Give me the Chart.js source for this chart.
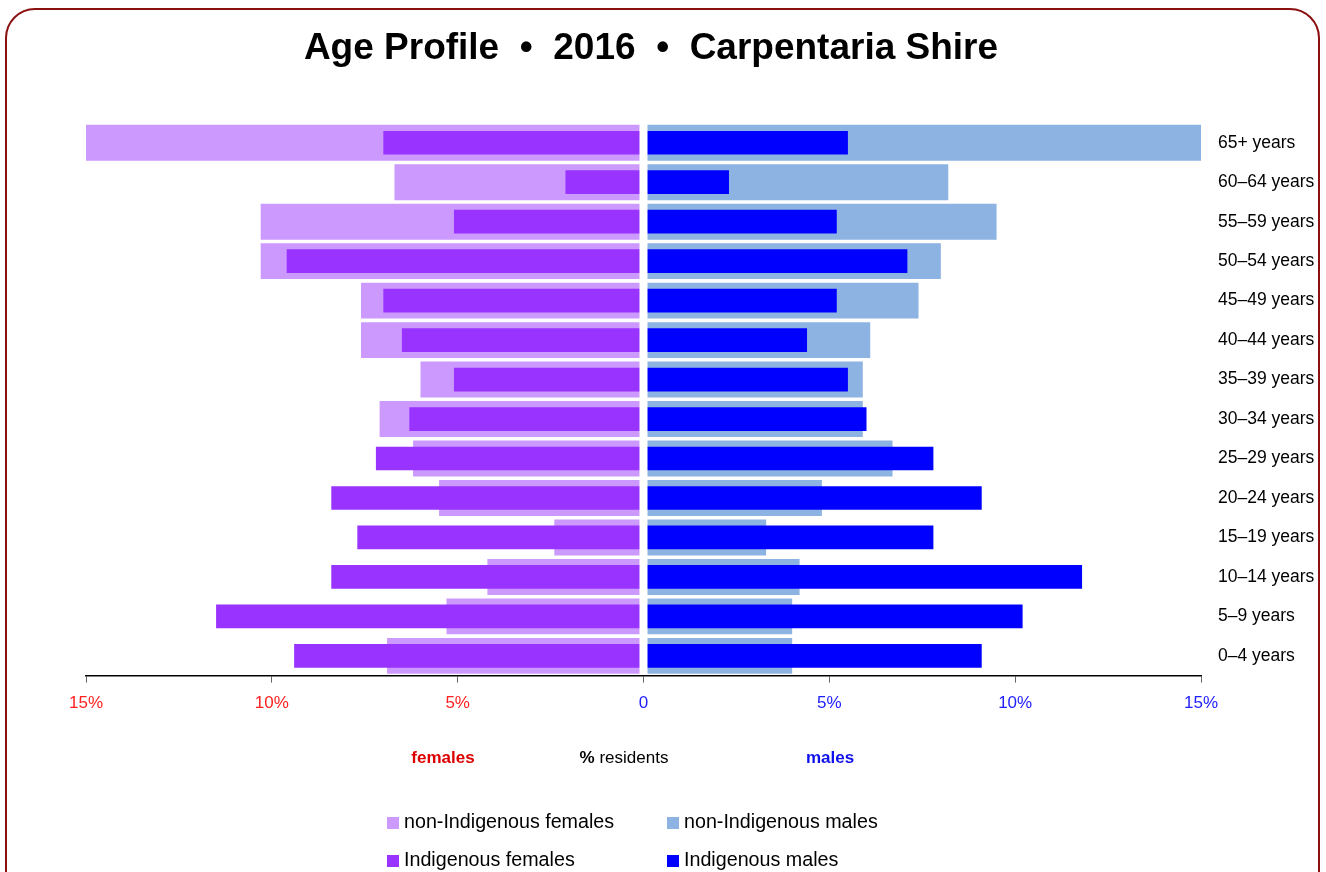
<!DOCTYPE html>
<html lang="en">
<head>
    <meta charset="UTF-8">
    <title>Age Profile 2016 Carpentaria Shire</title>
    <style>
        body {
            margin: 0;
            background: #fff;
            font-family: "Liberation Sans", Arial, sans-serif;
        }
        .wrap {
            position: relative;
            width: 1326px;
            height: 872px;
            overflow: hidden;
        }
        .frame {
            position: absolute;
            left: 5px;
            top: 8px;
            width: 1311px;
            height: 900px;
            border: 2px solid #8b1010;
            border-radius: 30px;
        }
        canvas { position: absolute; left: 0; top: 0; }
        .title {
            position: absolute;
            left: 0; width: 1302px; top: 26px;
            text-align: center;
            font-weight: bold;
            font-size: 37px;
        }
        .lbl {
            position: absolute;
            font-size: 17px;
            top: 748px;
            transform: translateX(-50%);
            white-space: nowrap;
        }
        .leg {
            position: absolute;
            font-size: 19.7px;
            white-space: nowrap;
        }
        .leg span {
            display: inline-block;
            width: 12px; height: 12px;
            margin-right: 5px;
            vertical-align: -1px;
        }
    </style>
    <script src="https://cdn.jsdelivr.net/npm/chart.js"></script>
</head>
<body>
<div class="wrap">
    <div class="frame"></div>
    <canvas id="chart" width="1326" height="872"></canvas>
    <div class="title">Age Profile &nbsp;•&nbsp; 2016 &nbsp;•&nbsp; Carpentaria Shire</div>
    <div class="lbl" style="left:443px;color:#dd0000;font-weight:bold">females</div>
    <div class="lbl" style="left:624px;color:#000"><b>%</b> residents</div>
    <div class="lbl" style="left:830px;color:#1010ee;font-weight:bold">males</div>
    <div class="leg" style="left:387px;top:810px"><span style="background:#cc99ff"></span>non-Indigenous females</div>
    <div class="leg" style="left:667px;top:810px"><span style="background:#8db3e2"></span>non-Indigenous males</div>
    <div class="leg" style="left:387px;top:848px"><span style="background:#9933ff"></span>Indigenous females</div>
    <div class="leg" style="left:667px;top:848px"><span style="background:#0000ff"></span>Indigenous males</div>
</div>

<script>
    // data, top to bottom
    const ageGroups = ['65+ years', '60–64 years', '55–59 years', '50–54 years', '45–49 years', '40–44 years',
        '35–39 years', '30–34 years', '25–29 years', '20–24 years', '15–19 years', '10–14 years', '5–9 years', '0–4 years'];
    const nonIndigFemales = [15.0, 6.7, 10.3, 10.3, 7.6, 7.6, 6.0, 7.1, 6.2, 5.5, 2.4, 4.2, 5.3, 6.9];
    const indigFemales    = [7.0, 2.1, 5.1, 9.6, 7.0, 6.5, 5.1, 6.3, 7.2, 8.4, 7.7, 8.4, 11.5, 9.4];
    const nonIndigMales   = [15.0, 8.2, 9.5, 8.0, 7.4, 6.1, 5.9, 5.9, 6.7, 4.8, 3.3, 4.2, 4.0, 4.0];
    const indigMales      = [5.5, 2.3, 5.2, 7.1, 5.2, 4.4, 5.5, 6.0, 7.8, 9.1, 7.8, 11.8, 10.2, 9.1];
    const xTicks = [-15, -10, -5, 0, 5, 10, 15];

    const neg = arr => arr.map(v => -v);

    // white gap down the middle of the pyramid
    const centreGap = {
        id: 'centreGap',
        afterDatasetsDraw(chart) {
            const ctx = chart.ctx;
            const x = chart.scales.x.getPixelForValue(0);
            const area = chart.chartArea;
            ctx.save();
            ctx.fillStyle = '#fff';
            ctx.fillRect(x - 4, area.top, 8, area.bottom - area.top - 1);
            ctx.restore();
        }
    };

    new Chart(document.getElementById('chart'), {
        type: 'bar',
        data: {
            labels: ageGroups,
            datasets: [
                { label: 'Indigenous females', data: neg(indigFemales), backgroundColor: '#9933ff',
                  barPercentage: 0.6, categoryPercentage: 1, order: 0 },
                { label: 'Indigenous males', data: indigMales, backgroundColor: '#0000ff',
                  barPercentage: 0.6, categoryPercentage: 1, order: 0 },
                { label: 'non-Indigenous females', data: neg(nonIndigFemales), backgroundColor: '#cc99ff',
                  barPercentage: 0.91, categoryPercentage: 1, order: 1 },
                { label: 'non-Indigenous males', data: nonIndigMales, backgroundColor: '#8db3e2',
                  barPercentage: 0.91, categoryPercentage: 1, order: 1 }
            ]
        },
        options: {
            responsive: false,
            animation: false,
            indexAxis: 'y',
            grouped: false,
            layout: { padding: { left: 86, top: 123, right: 0, bottom: 147 } },
            plugins: {
                legend: { display: false },
                tooltip: { enabled: false }
            },
            scales: {
                x: {
                    min: -15,
                    max: 15,
                    afterBuildTicks(axis) {
                        axis.ticks = xTicks.map(v => ({ value: v }));
                    },
                    grid: { drawOnChartArea: false, drawTicks: true, tickLength: 7, color: '#666' },
                    border: { display: true, color: '#000', width: 1.5 },
                    ticks: {
                        padding: 11,
                        font: { family: '"Liberation Sans", Arial', size: 17 },
                        color: ctx => ctx.tick.value < 0 ? '#ff2020' : '#2020ff',
                        callback: v => v === 0 ? '0' : Math.abs(v) + '%'
                    }
                },
                y: {
                    position: 'right',
                    afterFit(axis) { axis.width = 125; },
                    grid: { display: false },
                    border: { display: false },
                    ticks: {
                        padding: 9,
                        color: '#000',
                        font: { family: '"Liberation Sans", Arial', size: 17.5 }
                    }
                }
            }
        },
        plugins: [centreGap]
    });
</script>
</body>
</html>
